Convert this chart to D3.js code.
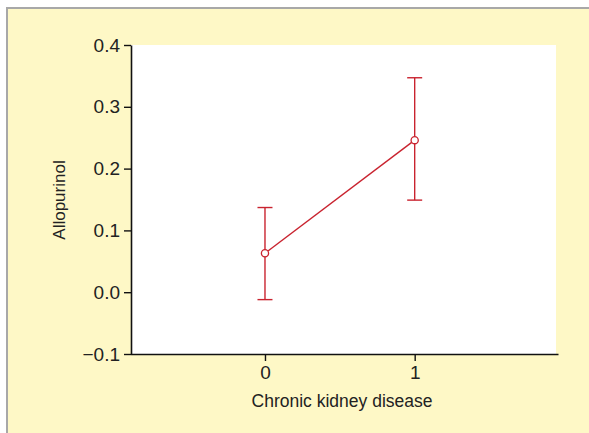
<!DOCTYPE html>
<html><head><meta charset="utf-8">
<script src="https://cdn.jsdelivr.net/npm/d3@7"></script>
<style>html,body{margin:0;padding:0;background:#fff;}svg{display:block;}</style>
</head><body>
<script>
const categories = [0, 1];
const means = [0.063, 0.246];
const lower = [-0.012, 0.149];
const upper = [0.137, 0.347];
const yTicks = [-0.1, 0.0, 0.1, 0.2, 0.3, 0.4];
const xLabel = "Chronic kidney disease";
const yLabel = "Allopurinol";

const W = 589, H = 433;
const svg = d3.select("body").append("svg").attr("width", W).attr("height", H);
svg.append("rect").attr("x", 6).attr("y", 7).attr("width", W - 6).attr("height", H - 7).attr("fill", "#a8a8a8");
svg.append("rect").attr("x", 8).attr("y", 9).attr("width", W - 8).attr("height", H - 9).attr("fill", "#fef8c6");

const L = 131, R = 556, T = 45, B = 354;
const x = d3.scaleLinear().domain([-0.895, 1.944]).range([L, R]);
const y = d3.scaleLinear().domain([-0.1, 0.4]).range([B, T]);

svg.append("rect").attr("x", L).attr("y", T).attr("width", R - L).attr("height", B - T).attr("fill", "#fff");

const font = "'Liberation Sans', Arial, sans-serif";
const yAxis = svg.append("g").attr("transform", `translate(${L},0)`)
  .call(d3.axisLeft(y).tickValues(yTicks).tickFormat(d => d < 0 ? "\u22120.1" : d3.format(".1f")(d)).tickSize(7).tickSizeOuter(0).tickPadding(4));
const xAxis = svg.append("g").attr("transform", `translate(0,${B})`)
  .call(d3.axisBottom(x).tickValues(categories).tickFormat(d3.format("d")).tickSize(7).tickSizeOuter(0).tickPadding(5));
[yAxis, xAxis].forEach(g => {
  g.select(".domain").attr("stroke", "#111").attr("stroke-width", 1.6);
  g.selectAll(".tick line").attr("stroke", "#111").attr("stroke-width", 1.4);
  g.selectAll("text").attr("fill", "#222").style("font-family", font).style("font-size", "19px");
});
xAxis.select(".domain").attr("d", `M${L},0.5H${R + 2.5}`);

svg.append("text").attr("x", 342).attr("y", 407).attr("text-anchor", "middle")
  .style("font-family", font).style("font-size", "17.5px").attr("fill", "#222").text(xLabel);
svg.append("text").attr("transform", "translate(65,200) rotate(-90)").attr("text-anchor", "middle")
  .style("font-family", font).style("font-size", "17px").attr("fill", "#222").text(yLabel);

const red = "#c9232f";
const data = categories.map((c, i) => ({c, m: means[i], lo: lower[i], hi: upper[i]}));
const g = svg.append("g");
g.append("path").datum(data)
  .attr("d", d3.line().x(d => x(d.c)).y(d => y(d.m)))
  .attr("fill", "none").attr("stroke", red).attr("stroke-width", 1.4);
data.forEach(d => {
  g.append("line").attr("x1", x(d.c)).attr("x2", x(d.c)).attr("y1", y(d.lo)).attr("y2", y(d.hi)).attr("stroke", red).attr("stroke-width", 1.4);
  [d.lo, d.hi].forEach(v => g.append("line").attr("x1", x(d.c) - 7.5).attr("x2", x(d.c) + 7.5).attr("y1", y(v)).attr("y2", y(v)).attr("stroke", red).attr("stroke-width", 1.4));
  g.append("circle").attr("cx", x(d.c)).attr("cy", y(d.m)).attr("r", 3.6).attr("fill", "#fff").attr("stroke", red).attr("stroke-width", 1.3);
});
</script>
</body></html>
